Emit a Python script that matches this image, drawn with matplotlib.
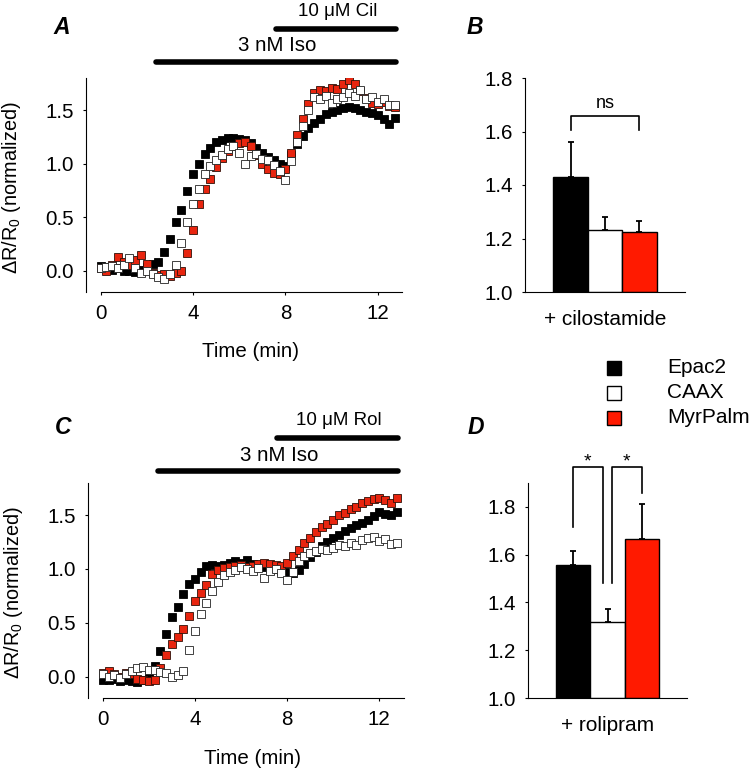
import numpy as np
import matplotlib
matplotlib.use("Agg")
from matplotlib import pyplot as plt
from matplotlib.lines import Line2D

plt.rcParams['font.family'] = ['Liberation Sans', 'DejaVu Sans']
plt.rcParams['mathtext.fontset'] = 'custom'
plt.rcParams['mathtext.rm'] = 'Liberation Sans'
plt.rcParams['mathtext.it'] = 'Liberation Sans:italic'

# tempo (min), uma leitura a cada 15 s
tempo = np.arange(52) * 0.25

# painel A: Iso + cilostamida
a_epac2 = [0.04, 0.03, 0.01, 0.02, 0.0, 0.0, -0.01, 0.01, 0.03, 0.06, 0.08, 0.17,
           0.30, 0.45, 0.57, 0.74, 0.90, 1.00, 1.09, 1.15, 1.20, 1.22, 1.24, 1.24,
           1.23, 1.22, 1.19, 1.15, 1.10, 1.06, 1.03, 1.00, 0.98, 1.08, 1.18, 1.26,
           1.33, 1.38, 1.42, 1.46, 1.48, 1.50, 1.52, 1.53, 1.52, 1.50, 1.48, 1.47,
           1.45, 1.42, 1.37, 1.43]
a_caax = [0.02, 0.03, 0.04, 0.02, 0.05, 0.12, 0.02, -0.02, 0.0, -0.03, -0.06, -0.08,
          -0.03, 0.05, 0.26, 0.45, 0.62, 0.76, 0.90, 0.98, 1.03, 1.08, 1.14, 1.16,
          1.10, 1.00, 1.07, 1.09, 1.04, 1.03, 0.99, 0.93, 0.85, 1.02, 1.20, 1.35,
          1.50, 1.62, 1.60, 1.63, 1.57, 1.60, 1.62, 1.66, 1.63, 1.69, 1.60, 1.62,
          1.58, 1.60, 1.55, 1.55]
a_myrpalm = [0.02, 0.0, 0.05, 0.13, 0.08, 0.05, 0.10, 0.15, 0.06, -0.02, -0.04, -0.03,
             -0.05, -0.02, 0.0, 0.16, 0.38, 0.62, 0.76, 0.86, 0.97, 1.05, 1.12, 1.16,
             1.19, 1.20, 1.16, 1.08, 1.00, 0.95, 0.91, 0.90, 0.95, 1.10, 1.27, 1.42,
             1.56, 1.66, 1.69, 1.68, 1.71, 1.70, 1.74, 1.78, 1.74, 1.68, 1.61, 1.57,
             1.56, 1.58, 1.54, 1.53]

# painel C: Iso + rolipram
c_epac2 = [-0.03, -0.03, -0.02, -0.04, -0.03, -0.04, -0.05, -0.03, 0.02, 0.10, 0.24, 0.40,
           0.55, 0.65, 0.77, 0.86, 0.91, 0.97, 1.03, 1.04, 1.03, 1.04, 1.06, 1.07,
           1.06, 1.08, 1.05, 1.03, 1.02, 1.01, 1.00, 0.98, 0.97, 0.96, 0.99, 1.05,
           1.11, 1.16, 1.21, 1.25, 1.29, 1.32, 1.35, 1.38, 1.41, 1.43, 1.46, 1.49,
           1.53, 1.51, 1.50, 1.53]
c_caax = [0.02, 0.0, 0.01, -0.01, 0.02, 0.05, 0.08, 0.09, 0.06, 0.06, 0.04, 0.03,
          0.0, 0.01, 0.05, 0.25, 0.42, 0.58, 0.68, 0.80, 0.88, 0.94, 0.97, 0.99,
          1.02, 1.00, 0.98, 1.01, 0.92, 0.98, 1.00, 0.96, 0.90, 0.97, 1.07, 1.12,
          1.15, 1.17, 1.19, 1.18, 1.20, 1.22, 1.21, 1.24, 1.22, 1.27, 1.29, 1.30,
          1.26, 1.28, 1.23, 1.24]
c_myrpalm = [0.03, 0.05, 0.02, 0.0, 0.03, 0.02, -0.02, -0.03, -0.04, -0.03, 0.08, 0.20,
             0.30, 0.37, 0.44, 0.56, 0.70, 0.78, 0.85, 0.95, 0.99, 1.01, 1.02, 1.03,
             1.04, 1.02, 1.03, 1.05, 1.06, 1.05, 1.04, 1.03, 1.06, 1.12, 1.18, 1.24,
             1.29, 1.34, 1.39, 1.42, 1.46, 1.50, 1.52, 1.56, 1.58, 1.61, 1.63, 1.65,
             1.66, 1.64, 1.61, 1.66]

# paineis B e D: medias e erro padrao
grupos = ['Epac2', 'CAAX', 'MyrPalm']
cil_media = [1.43, 1.23, 1.225]
cil_erro = [0.13, 0.05, 0.04]
rol_media = [1.555, 1.318, 1.665]
rol_erro = [0.06, 0.054, 0.148]

vermelho = '#ff1a00'
cores = ['black', 'white', vermelho]
fs = 14.8


def tracos(ax, epac, caax, myr, droga, y_iso, y_droga, xl):
    ax.plot(tempo, epac, 's', ms=5.4, mfc='black', mec='black', mew=0.6)
    ax.plot(tempo, myr, 's', ms=5.4, mfc='#e8250f', mec='#301008', mew=0.6)
    ax.plot(tempo, caax, 's', ms=5.4, mfc='white', mec='#222222', mew=0.6)
    ax.set_xlim(xl)
    ax.set_ylim(-0.2, 1.8)
    ax.set_xticks([0, 4, 8, 12])
    ax.set_yticks([0, 0.5, 1.0, 1.5])
    ax.set_yticklabels(['0.0', '0.5', '1.0', '1.5'])
    ax.spines['top'].set_visible(False)
    ax.spines['right'].set_visible(False)
    ax.spines['bottom'].set_bounds(0, xl[1])
    ax.tick_params(labelsize=fs, length=2.5, pad=6, direction='out')
    # barras de tratamento
    ax.plot([2.4, 12.8], [y_iso, y_iso], color='black', lw=4,
            solid_capstyle='round', clip_on=False)
    ax.plot([7.58, 12.8], [y_droga, y_droga], color='black', lw=4,
            solid_capstyle='round', clip_on=False)
    ax.text(7.65, y_iso + 0.15, '3 nM Iso', ha='center', va='center',
            fontsize=fs, clip_on=False)
    ax.text(10.25, y_droga + 0.16, droga, ha='center', va='center',
            fontsize=13.5, clip_on=False)
    ax.text(0.52, -0.28, 'Time (min)', transform=ax.transAxes,
            ha='center', va='center', fontsize=fs)
    ax.text(-0.235, 0.49, 'ΔR/R$_0$ (normalized)', transform=ax.transAxes,
            ha='center', va='center', rotation=90, fontsize=14.3)


def barras(ax, media, erro, topo, rotulo):
    x = np.arange(3)
    ax.bar(x, np.array(media) - 1.0, bottom=1.0, width=1.0, color=cores,
           edgecolor='black', linewidth=1)
    for i in range(3):
        ax.errorbar(x[i], media[i], yerr=[[0], [erro[i]]], fmt='none',
                    ecolor='black', elinewidth=1.3, capsize=2.2, capthick=1.3)
    ax.set_xlim(-1.32, 3.32)
    ax.set_ylim(1.0, topo)
    ax.set_yticks([1.0, 1.2, 1.4, 1.6, 1.8])
    ax.set_xticks([])
    ax.spines['top'].set_visible(False)
    ax.spines['right'].set_visible(False)
    ax.tick_params(labelsize=fs, length=2.5, pad=6, direction='out')
    ax.text(0.5, -0.13, rotulo, transform=ax.transAxes, ha='center',
            va='center', fontsize=15)


fig = plt.figure(figsize=(7.51, 7.70), dpi=100)
W, H = 751, 770

axA = fig.add_axes([86 / W, (H - 292) / H, 316 / W, 214 / H])
tracos(axA, a_epac2, a_caax, a_myrpalm, '10 μM Cil', 1.95, 2.258, (-0.63, 13.05))

axC = fig.add_axes([88 / W, (H - 698) / H, 316 / W, 215 / H])
tracos(axC, c_epac2, c_caax, c_myrpalm, '10 μM Rol', 1.907, 2.223, (-0.64, 13.07))

axB = fig.add_axes([525 / W, (H - 292) / H, 160 / W, 214 / H])
barras(axB, cil_media, cil_erro, 1.8, '+ cilostamide')
axB.plot([0, 0, 2, 2], [1.605, 1.658, 1.658, 1.605], color='black', lw=1.2,
         clip_on=False)
axB.text(1.0, 1.705, 'ns', ha='center', va='center', fontsize=13)

axD = fig.add_axes([528 / W, (H - 698) / H, 159 / W, 215 / H])
barras(axD, rol_media, rol_erro, 1.9, '+ rolipram')
axD.plot([0, 0, 0.86, 0.86], [1.716, 1.968, 1.968, 1.48], color='black', lw=1.2,
         clip_on=False)
axD.plot([1.12, 1.12, 2.0, 2.0], [1.48, 1.968, 1.968, 1.86], color='black', lw=1.2,
         clip_on=False)
axD.text(0.42, 1.99, '*', ha='center', va='center', fontsize=14, clip_on=False)
axD.text(1.56, 1.99, '*', ha='center', va='center', fontsize=14, clip_on=False)

# legenda manual
for i, nome in enumerate(grupos):
    yy = 1 - (368 + 25 * i) / H
    fig.add_artist(Line2D([614 / W], [yy], marker='s', ms=9.5, mfc=cores[i],
                          mec='black', mew=1, transform=fig.transFigure))
    fig.text(667 / W, yy, nome, ha='left', va='center', fontsize=15)

# letras dos paineis
for letra, px, py in [('A', 62, 28), ('B', 475, 28), ('C', 63, 428), ('D', 476, 428)]:
    fig.text(px / W, 1 - py / H, letra, ha='center', va='center', fontsize=16.5,
             fontweight='bold', fontstyle='italic')

fig.savefig('out.png', dpi=100)
